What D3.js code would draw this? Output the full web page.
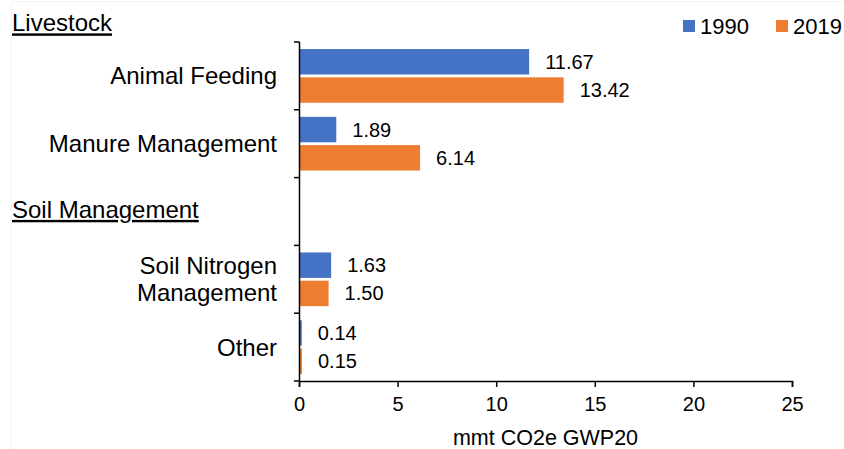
<!DOCTYPE html>
<html>
<head>
<meta charset="utf-8">
<script src="https://cdn.jsdelivr.net/npm/d3@7"></script>
<style>
  html, body { margin: 0; padding: 0; background: #fff; }
  svg { display: block; font-family: Arial, "Liberation Sans", Helvetica, sans-serif; }
</style>
</head>
<body>
<svg id="chart" width="844" height="449"></svg>
<script>
// Emission sources (rows top to bottom); "Soil Management" is a section heading row
const categories = ["Animal Feeding", "Manure Management", "Soil Management", "Soil Nitrogen Management", "Other"];
const sectionHeads = ["Livestock", "Soil Management"];
const series = ["1990", "2019"];
const values1990 = [11.67, 1.89, null, 1.63, 0.14];
const values2019 = [13.42, 6.14, null, 1.50, 0.15];
const xTicks = [0, 5, 10, 15, 20, 25];
const xTitle = "mmt CO2e GWP20";
const colors = { "1990": "#4472C4", "2019": "#ED7D31" };

const svg = d3.select("#chart");
const W = 844, H = 449;
const margin = { top: 42, right: 52, bottom: 68, left: 299 };
const innerW = W - margin.left - margin.right;
const innerH = H - margin.top - margin.bottom;

// faint frame edges
svg.append("line").attr("x1", 11.5).attr("x2", 11.5).attr("y1", 1).attr("y2", H)
  .attr("stroke", "#f3f3f3").attr("stroke-width", 1);
svg.append("line").attr("x1", 11).attr("x2", W).attr("y1", 1.5).attr("y2", 1.5)
  .attr("stroke", "#f3f3f3").attr("stroke-width", 1);

const g = svg.append("g").attr("transform", `translate(${margin.left},${margin.top})`);

const x = d3.scaleLinear().domain([0, 25]).range([0, innerW]);
const y = d3.scaleBand().domain(categories).range([0, innerH]).padding(0);
const ySub = d3.scaleBand().domain(series).range([0, y.bandwidth()])
  .paddingInner(0.1).paddingOuter(0.25);

const rows = categories.map((c, i) => ({
  cat: c,
  vals: [
    { s: "1990", v: values1990[i] },
    { s: "2019", v: values2019[i] }
  ].filter(d => d.v !== null)
}));

// bars
const grp = g.selectAll("g.row").data(rows).join("g")
  .attr("class", "row")
  .attr("transform", d => `translate(0,${y(d.cat)})`);

grp.selectAll("rect").data(d => d.vals).join("rect")
  .attr("x", x(0))
  .attr("y", d => ySub(d.s))
  .attr("width", d => x(d.v) - x(0))
  .attr("height", ySub.bandwidth())
  .attr("fill", d => colors[d.s]);

// value labels
grp.selectAll("text.val").data(d => d.vals).join("text")
  .attr("class", "val")
  .attr("x", d => x(d.v) + 16)
  .attr("y", d => ySub(d.s) + ySub.bandwidth() / 2)
  .attr("dy", "0.35em")
  .attr("font-size", 20)
  .attr("fill", "#000")
  .text(d => d.v.toFixed(2));

// y axis: line + ticks at band boundaries
const yBounds = categories.map(c => y(c)).concat([innerH]);
g.append("line").attr("x1", 0.5).attr("x2", 0.5).attr("y1", 0).attr("y2", innerH)
  .attr("stroke", "#000").attr("stroke-width", 1.5);
g.selectAll("line.ytick").data(yBounds).join("line")
  .attr("class", "ytick")
  .attr("x1", -5).attr("x2", 0.5)
  .attr("y1", d => d).attr("y2", d => d)
  .attr("stroke", "#000").attr("stroke-width", 1.5);

// category labels (right aligned, multi-line where needed)
const labelLines = {
  "Soil Nitrogen Management": ["Soil Nitrogen", "Management"]
};
categories.forEach(c => {
  if (sectionHeads.includes(c)) return;
  const lines = labelLines[c] || [c];
  const cy = y(c) + y.bandwidth() / 2;
  const t = g.append("text")
    .attr("text-anchor", "end")
    .attr("font-size", 24)
    .attr("fill", "#000");
  lines.forEach((ln, i) => {
    t.append("tspan")
      .attr("x", -22)
      .attr("y", cy + (i - (lines.length - 1) / 2) * 27)
      .attr("dy", "0.35em")
      .text(ln);
  });
});

// section headings, underlined, left aligned
const headY = {
  "Livestock": -19,
  "Soil Management": y("Soil Management") + y.bandwidth() / 2 - 2
};
sectionHeads.forEach(h => {
  svg.append("text")
    .attr("x", 12)
    .attr("y", margin.top + headY[h])
    .attr("dy", "0.35em")
    .attr("font-size", 24)
    .attr("fill", "#000")
    .attr("text-decoration", "underline")
    .text(h);
});

// x axis
const xAxis = d3.axisBottom(x).tickValues(xTicks).tickSize(6).tickPadding(10)
  .tickFormat(d3.format("d"));
const gx = g.append("g").attr("transform", `translate(0,${innerH})`).call(xAxis);
gx.select(".domain").attr("stroke", "#000").attr("stroke-width", 1.5);
gx.selectAll(".tick line").attr("stroke", "#000").attr("stroke-width", 1.5);
gx.selectAll(".tick text").attr("font-size", 20).attr("fill", "#000")
  .attr("font-family", null);

g.append("text")
  .attr("x", innerW / 2)
  .attr("y", innerH + 64)
  .attr("text-anchor", "middle")
  .attr("font-size", 21.5)
  .attr("fill", "#000")
  .text(xTitle);

// legend
const legendItems = [
  { s: "1990", x: 683 },
  { s: "2019", x: 776 }
];
const lg = svg.append("g");
legendItems.forEach(it => {
  lg.append("rect").attr("x", it.x).attr("y", 20).attr("width", 12).attr("height", 12)
    .attr("fill", colors[it.s]);
  lg.append("text").attr("x", it.x + 17).attr("y", 26).attr("dy", "0.35em")
    .attr("font-size", 22).attr("fill", "#000").text(it.s);
});
</script>
</body>
</html>
